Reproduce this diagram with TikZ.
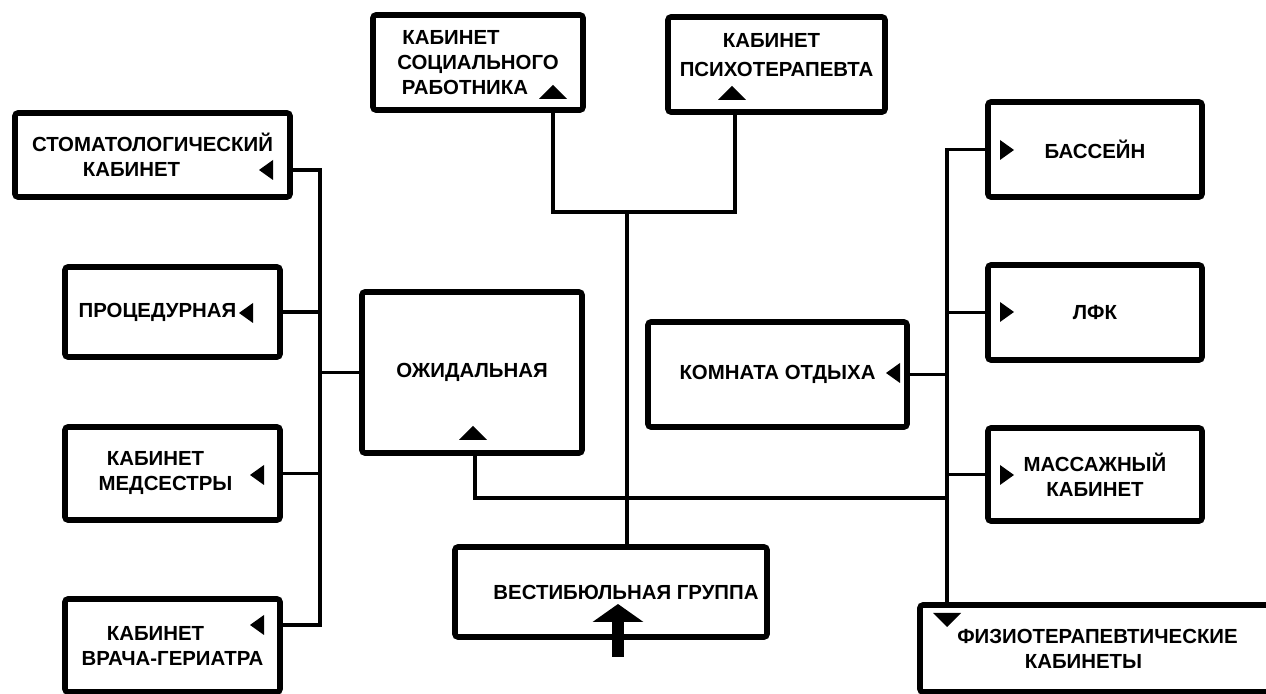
\documentclass[tikz,border=0pt]{standalone}
\usepackage{fontspec}
\setmainfont{Liberation Sans}
\usetikzlibrary{arrows.meta,positioning}

% small filled markers inside the rooms
\newcommand{\trileft}[1]{\fill (#1) ++(-7,0) -- ++(14,-10) -- ++(0,20) -- cycle;}
\newcommand{\triright}[1]{\fill (#1) ++(7,0) -- ++(-14,-10) -- ++(0,20) -- cycle;}
\newcommand{\triup}[1]{\fill (#1) ++(0,-7) -- ++(14,14) -- ++(-28,0) -- cycle;}
\newcommand{\tridown}[1]{\fill (#1) ++(0,7) -- ++(14,-14) -- ++(-28,0) -- cycle;}

\begin{document}
\begin{tikzpicture}[
    x=0.5pt, y=-0.5pt,
    room/.style={draw, line width=2.8pt, rounded corners=1.5pt, inner sep=0pt, align=center, font=\bfseries\fontsize{10.2}{12.5}\selectfont},
    link/.style={line width=1.8pt},
    entryarrow/.style={line width=6pt, -{Triangle[width=25pt,length=9pt]}}
]
\useasboundingbox (0,0) rectangle (1266,694);

% left column
\node[room, minimum width=137.5pt, minimum height=42pt] (stom) at (152.5,155) {СТОМАТОЛОГИЧЕСКИЙ\\КАБИНЕТ\hspace*{21pt}};
\node[room, minimum width=107.5pt, minimum height=45pt] (proc) at (172.5,312) {ПРОЦЕДУРНАЯ\hspace*{15pt}};
\node[room, minimum width=107.5pt, minimum height=46.5pt] (nurse) at (172.5,473.5) {КАБИНЕТ\hspace*{17pt}\\МЕДСЕСТРЫ\hspace*{7pt}};
\node[room, minimum width=107.5pt, minimum height=46.5pt] (geri) at (172.5,645.5) {КАБИНЕТ\hspace*{17pt}\\ВРАЧА-ГЕРИАТРА};

% top row
\node[room, minimum width=105pt, minimum height=47.5pt] (social) at (478,62.5) {КАБИНЕТ\hspace*{27pt}\\СОЦИАЛЬНОГО\hspace*{23pt}\\РАБОТНИКА\hspace*{13pt}};
\node[room, minimum width=108.5pt, minimum height=47.5pt] (psych) at (776.5,64.5) {КАБИНЕТ\hspace*{5pt}\\[2pt]ПСИХОТЕРАПЕВТА\hspace*{5pt}\\[-2.5pt]};

% middle
\node[room, minimum width=110pt, minimum height=80.5pt] (wait) at (472,372.5) {ОЖИДАЛЬНАЯ};
\node[room, minimum width=156pt, minimum height=45pt] (vest) at (611,592) {\hspace*{15pt}ВЕСТИБЮЛЬНАЯ ГРУППА};
\node[room, minimum width=129.5pt, minimum height=52.5pt] (rest) at (777.5,374.5) {КОМНАТА ОТДЫХА};

% right column
\node[room, minimum width=107pt, minimum height=47.5pt] (pool) at (1095,149.5) {БАССЕЙН};
\node[room, minimum width=107pt, minimum height=47.5pt] (lfk) at (1095,312.5) {ЛФК};
\node[room, minimum width=107pt, minimum height=46.5pt] (massage) at (1095,474.5) {МАССАЖНЫЙ\\КАБИНЕТ};
\node[room, minimum width=177.5pt, minimum height=43.5pt] (physio) at (1097.5,648.5) {ФИЗИОТЕРАПЕВТИЧЕСКИЕ\\КАБИНЕТЫ\hspace*{14pt}};

% bus lines
\coordinate (ltop) at (320,170);
\coordinate (lbot) at (320,625);
\coordinate (tjoin) at (627,212);
\coordinate (sdrop) at (553,212);
\coordinate (pdrop) at (735,212);
\coordinate (wdrop) at (475,498);
\coordinate (rtop) at (947,149.5);

\draw[link] (stom.east |- ltop) -- (ltop) -- (lbot) -- (geri.east |- lbot);
\draw[link] (proc.east) -- (proc.east -| ltop);
\draw[link] (nurse.east) -- (nurse.east -| ltop);
\draw[link] (wait.west) -- (wait.west -| ltop);

\draw[link] (social.south -| sdrop) -- (sdrop) -- (pdrop) -- (psych.south -| pdrop);
\draw[link] (tjoin) -- (tjoin |- vest.north);

\draw[link] (wait.south -| wdrop) -- (wdrop) -- (wdrop -| rtop);
\draw[link] (pool.west) -- (rtop) -- (rtop |- physio.north);
\draw[link] (lfk.west) -- (lfk.west -| rtop);
\draw[link] (rest.east) -- (rest.east -| rtop);
\draw[link] (massage.west) -- (massage.west -| rtop);

% entrance
\coordinate (entry) at (618,657);
\coordinate (entrytip) at (618,604);
\draw[entryarrow] (entry) -- (entrytip);

% markers
\trileft{266,170}
\trileft{246,313}
\trileft{257,475}
\trileft{257,625}
\trileft{893,373}
\triup{553,92}
\triup{732,93}
\triup{473,433}
\triright{1007,150}
\triright{1007,312}
\triright{1007,475}
\tridown{947,620}
\end{tikzpicture}
\end{document}
